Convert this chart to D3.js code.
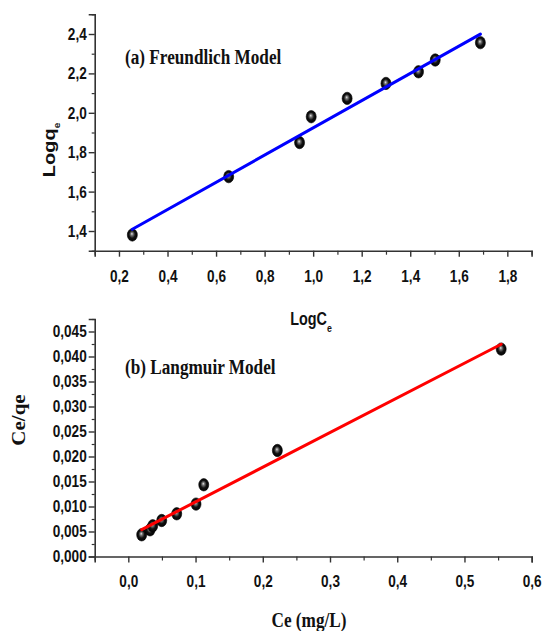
<!DOCTYPE html>
<html>
<head>
<meta charset="utf-8">
<script src="https://cdn.jsdelivr.net/npm/d3@7"></script>
<style>
  html, body { margin: 0; padding: 0; background: #fff; }
  svg { display: block; }
</style>
</head>
<body>
<svg id="chart" width="544" height="631"></svg>
<script>
// ---- Data ----
const freundlichX = [0.255, 0.652, 0.944, 0.992, 1.14, 1.30, 1.434, 1.503, 1.689]; // LogCe
const freundlichY = [1.38, 1.676, 1.849, 1.98, 2.073, 2.149, 2.208, 2.268, 2.356]; // Logqe
const langmuirX = [0.0199, 0.0323, 0.0363, 0.0497, 0.072, 0.1007, 0.1122, 0.2217, 0.5546]; // Ce
const langmuirY = [0.00434, 0.00534, 0.00614, 0.0072, 0.00854, 0.01048, 0.01434, 0.0212, 0.04148]; // Ce/qe

const topXTicks = [0.2, 0.4, 0.6, 0.8, 1.0, 1.2, 1.4, 1.6, 1.8];
const topYTicks = [1.4, 1.6, 1.8, 2.0, 2.2, 2.4];
const botXTicks = [0.0, 0.1, 0.2, 0.3, 0.4, 0.5, 0.6];
const botYTicks = [0.000, 0.005, 0.010, 0.015, 0.020, 0.025, 0.030, 0.035, 0.040, 0.045];

const topXMinor = [0.1, 0.3, 0.5, 0.7, 0.9, 1.1, 1.3, 1.5, 1.7, 1.9];
const topYMinor = [1.3, 1.5, 1.7, 1.9, 2.1, 2.3, 2.5];
const botXMinor = [-0.05, 0.05, 0.15, 0.25, 0.35, 0.45, 0.55];
const botYMinor = [0.0025, 0.0075, 0.0125, 0.0175, 0.0225, 0.0275, 0.0325, 0.0375, 0.0425, 0.0475];

const svg = d3.select("#chart");
const defs = svg.append("defs");
const grad = defs.append("radialGradient").attr("id", "ball")
  .attr("cx", "0.5").attr("cy", "0.5").attr("r", "0.55").attr("fx", "0.45").attr("fy", "0.4");
grad.append("stop").attr("offset", "0").attr("stop-color", "#e8e8e8");
grad.append("stop").attr("offset", "0.22").attr("stop-color", "#777");
grad.append("stop").attr("offset", "0.55").attr("stop-color", "#111");
grad.append("stop").attr("offset", "1").attr("stop-color", "#000");

const tickFont = "'Liberation Sans', Arial, sans-serif";
const serifFont = "'Liberation Serif', 'Times New Roman', serif";
const SX = 0.8;    // condensed look of tick labels
const SXT = 0.86;  // condensed look of serif titles

function fmt(d, digits) { return d.toFixed(digits).replace(".", ","); }

function drawPanel(cfg) {
  const x = d3.scaleLinear().domain(cfg.xDomain).range(cfg.xRange);
  const y = d3.scaleLinear().domain(cfg.yDomain).range(cfg.yRange);
  const g = svg.append("g");

  // minor ticks
  const xa = g.append("g").attr("transform", `translate(0,${cfg.yRange[0]})`)
    .call(d3.axisBottom(x).tickValues(cfg.xMinor).tickSize(4).tickFormat(""));
  const ya = g.append("g").attr("transform", `translate(${cfg.xRange[0]},0)`)
    .call(d3.axisLeft(y).tickValues(cfg.yMinor).tickSize(3).tickFormat(""));
  [xa, ya].forEach(a => { a.select(".domain").remove(); a.selectAll("line").attr("stroke", "#333").attr("stroke-width", 1.2); });

  // major axes
  const xAxis = g.append("g").attr("transform", `translate(0,${cfg.yRange[0]})`)
    .call(d3.axisBottom(x).tickValues(cfg.xTicks).tickSize(6).tickPadding(cfg.xPad)
      .tickFormat(d => fmt(d, cfg.xDigits)));
  const yAxis = g.append("g").attr("transform", `translate(${cfg.xRange[0]},0)`)
    .call(d3.axisLeft(y).tickValues(cfg.yTicks).tickSize(6).tickPadding(2)
      .tickFormat(d => fmt(d, cfg.yDigits)));
  [xAxis, yAxis].forEach(a => {
    a.select(".domain").attr("stroke", "#333").attr("stroke-width", 1.6);
    a.selectAll(".tick line").attr("stroke", "#333").attr("stroke-width", 1.4);
    a.selectAll(".tick text").attr("fill", "#111")
      .style("font-family", tickFont).style("font-weight", "bold").style("font-size", "17px");
  });
  xAxis.selectAll(".tick text").attr("transform", `scale(${SX},1)`);
  yAxis.selectAll(".tick text").attr("x", -8 / SX).attr("transform", `scale(${SX},1)`);

  // fit line from least squares over the data
  const n = cfg.xs.length;
  const mx = d3.mean(cfg.xs), my = d3.mean(cfg.ys);
  let sxy = 0, sxx = 0;
  for (let i = 0; i < n; i++) { sxy += (cfg.xs[i] - mx) * (cfg.ys[i] - my); sxx += (cfg.xs[i] - mx) ** 2; }
  const slope = sxy / sxx, icpt = my - slope * mx;
  const x0 = d3.min(cfg.xs), x1 = d3.max(cfg.xs);

  // points
  const pts = cfg.xs.map((v, i) => [v, cfg.ys[i]]);
  g.append("g").selectAll("ellipse").data(pts).join("ellipse")
    .attr("cx", d => x(d[0])).attr("cy", d => y(d[1]))
    .attr("rx", 5).attr("ry", 6.2)
    .attr("fill", "url(#ball)").attr("stroke", "#000").attr("stroke-width", 0.6);

  g.append("line")
    .attr("x1", x(x0)).attr("y1", y(slope * x0 + icpt))
    .attr("x2", x(x1)).attr("y2", y(slope * x1 + icpt))
    .attr("stroke", cfg.lineColor).attr("stroke-width", 3).attr("stroke-linecap", "round");

  // panel title
  g.append("text").attr("transform", `translate(${cfg.titleX},${cfg.titleY}) scale(${SXT},1)`)
    .style("font-family", serifFont).style("font-weight", "bold").style("font-size", "20px")
    .attr("fill", "#111").text(cfg.title);
  return { x, y, g };
}

drawPanel({
  xDomain: [0.1, 1.9], xRange: [94.7, 531.6],
  yDomain: [1.3, 2.5], yRange: [250.7, 14.3],
  xTicks: topXTicks, yTicks: topYTicks, xMinor: topXMinor, yMinor: topYMinor,
  xDigits: 1, yDigits: 1, xPad: 13,
  xs: freundlichX, ys: freundlichY, lineColor: "#0000ff",
  title: "(a) Freundlich Model", titleX: 125, titleY: 64
});

drawPanel({
  xDomain: [-0.05, 0.6], xRange: [94.7, 531.7],
  yDomain: [0, 0.0475], yRange: [556.5, 319],
  xTicks: botXTicks, yTicks: botYTicks, xMinor: botXMinor, yMinor: botYMinor,
  xDigits: 1, yDigits: 3, xPad: 12.5,
  xs: langmuirX, ys: langmuirY, lineColor: "#ff0000",
  title: "(b) Langmuir Model", titleX: 125, titleY: 374
});

// axis titles
// LogCe (top x)
const t1 = svg.append("text").attr("transform", `translate(311,325) scale(0.8,1)`)
  .attr("text-anchor", "middle").attr("fill", "#111")
  .style("font-family", tickFont).style("font-weight", "bold").style("font-size", "18px");
t1.append("tspan").text("LogC");
t1.append("tspan").attr("dy", 7).style("font-size", "11px").text("e");

// Logqe (top y)
const t2 = svg.append("text").attr("transform", `translate(55,150) rotate(-90) scale(1,0.82)`)
  .attr("text-anchor", "middle").attr("fill", "#111")
  .style("font-family", tickFont).style("font-weight", "bold").style("font-size", "20px");
t2.append("tspan").text("Logq");
t2.append("tspan").attr("dy", 6).style("font-size", "10px").text("e");

// Ce (mg/L) (bottom x)
svg.append("text").attr("transform", `translate(309,627) scale(${SXT},1)`)
  .attr("text-anchor", "middle").attr("fill", "#111")
  .style("font-family", serifFont).style("font-weight", "bold").style("font-size", "20px")
  .text("Ce (mg/L)");

// Ce/qe (bottom y)
svg.append("text").attr("transform", `translate(25,420) rotate(-90) scale(1,${SXT})`)
  .attr("text-anchor", "middle").attr("fill", "#111")
  .style("font-family", serifFont).style("font-weight", "bold").style("font-size", "21px")
  .text("Ce/qe");
</script>
</body>
</html>
